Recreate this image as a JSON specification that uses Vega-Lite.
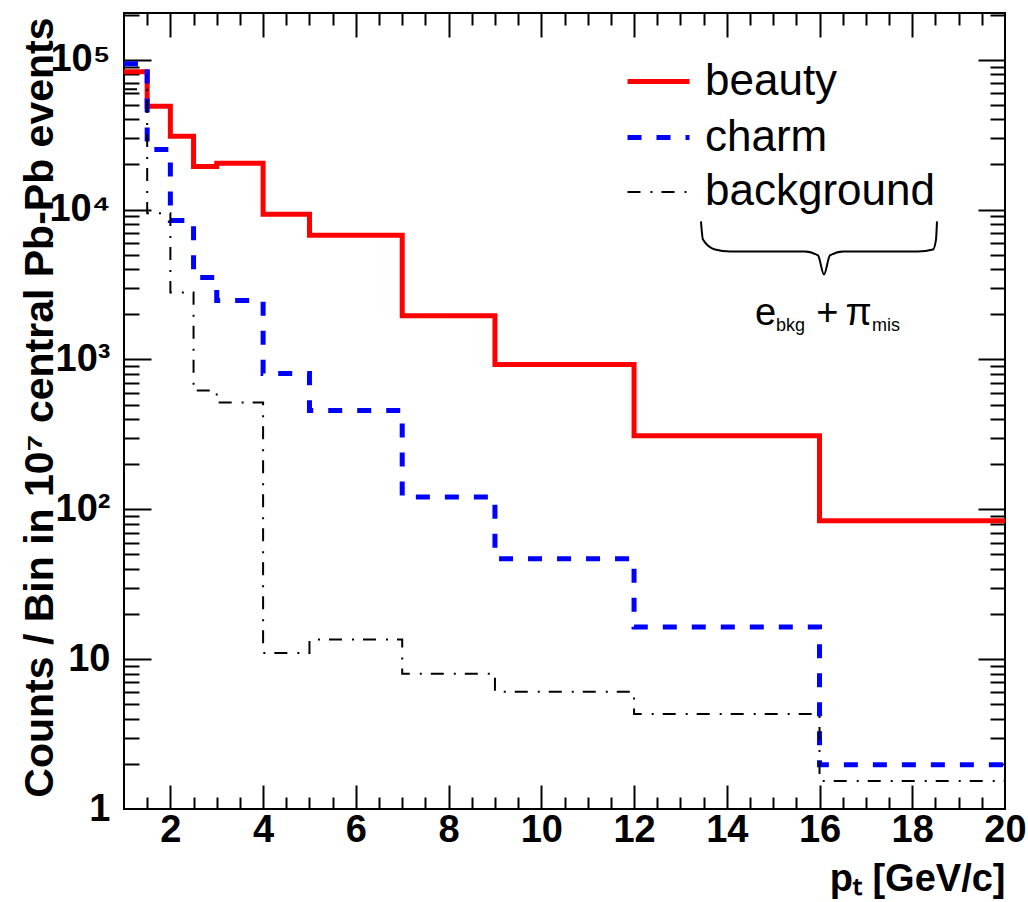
{
  "$schema": "https://vega.github.io/schema/vega-lite/v6.json",
  "width": 881,
  "height": 796,
  "autosize": {"type": "none"},
  "padding": {"left": 124, "top": 13, "right": 23, "bottom": 93},
  "background": "white",
  "config": {
    "font": "Liberation Sans",
    "view": {"stroke": "black", "strokeWidth": 2},
    "legend": {"labelFontSize": 44, "labelFont": "Liberation Sans", "labelColor": "black", "labelOffset": 13, "padding": 0, "rowPadding": 0, "labelLimit": 0, "symbolType": "stroke", "symbolSize": 3844}
  },
  "datasets": {
    "hist": [
      {"x": 1, "v": 83000, "s": "beauty"},
      {"x": 1.5, "v": 48900, "s": "beauty"},
      {"x": 2, "v": 30800, "s": "beauty"},
      {"x": 2.5, "v": 19400, "s": "beauty"},
      {"x": 3, "v": 20400, "s": "beauty"},
      {"x": 4, "v": 9290, "s": "beauty"},
      {"x": 5, "v": 6730, "s": "beauty"},
      {"x": 7, "v": 1960, "s": "beauty"},
      {"x": 9, "v": 925, "s": "beauty"},
      {"x": 12, "v": 310, "s": "beauty"},
      {"x": 16, "v": 83.9, "s": "beauty"},
      {"x": 20, "v": 83.9, "s": "beauty"},
      {"x": 1, "v": 94000, "s": "charm"},
      {"x": 1.5, "v": 25200, "s": "charm"},
      {"x": 2, "v": 8470, "s": "charm"},
      {"x": 2.5, "v": 3520, "s": "charm"},
      {"x": 3, "v": 2470, "s": "charm"},
      {"x": 4, "v": 805, "s": "charm"},
      {"x": 5, "v": 456, "s": "charm"},
      {"x": 7, "v": 121, "s": "charm"},
      {"x": 9, "v": 46.8, "s": "charm"},
      {"x": 12, "v": 16.4, "s": "charm"},
      {"x": 16, "v": 1.97, "s": "charm"},
      {"x": 20, "v": 1.97, "s": "charm"},
      {"x": 1, "v": 63500, "s": "background"},
      {"x": 1.5, "v": 9440, "s": "background"},
      {"x": 2, "v": 2800, "s": "background"},
      {"x": 2.5, "v": 620, "s": "background"},
      {"x": 3, "v": 515, "s": "background"},
      {"x": 4, "v": 11.0, "s": "background"},
      {"x": 5, "v": 13.5, "s": "background"},
      {"x": 7, "v": 7.98, "s": "background"},
      {"x": 9, "v": 6.05, "s": "background"},
      {"x": 12, "v": 4.31, "s": "background"},
      {"x": 16, "v": 1.54, "s": "background"},
      {"x": 20, "v": 1.54, "s": "background"}
    ],
    "brace": [
      {"x": 13.443, "v": 8340},
      {"x": 13.486, "v": 6310},
      {"x": 13.745, "v": 5420},
      {"x": 14.069, "v": 5260},
      {"x": 15.686, "v": 5260},
      {"x": 15.967, "v": 4940},
      {"x": 16.096, "v": 3690},
      {"x": 16.225, "v": 4940},
      {"x": 16.506, "v": 5260},
      {"x": 18.123, "v": 5260},
      {"x": 18.447, "v": 5420},
      {"x": 18.512, "v": 6310},
      {"x": 18.533, "v": 8340}
    ],
    "bigtext": [
      {"x": 14.609, "v": 1710, "t": "e"},
      {"x": 15.93, "v": 1710, "t": "+"},
      {"x": 16.56, "v": 1710, "t": "π"}
    ],
    "subtext": [
      {"x": 15.061, "v": 1536, "t": "bkg"},
      {"x": 17.13, "v": 1536, "t": "mis"}
    ]
  },
  "resolve": {"axis": {"x": "independent", "y": "independent"}},
  "layer": [
    {
      "data": {"name": "hist"},
      "mark": {"type": "line", "interpolate": "step-after"},
      "encoding": {
        "x": {
          "field": "x", "type": "quantitative",
          "scale": {"domain": [1, 20], "nice": false, "zero": false},
          "axis": {
            "orient": "bottom", "values": [2, 4, 6, 8, 10, 12, 14, 16, 18, 20],
            "ticks": false, "domain": false, "grid": false,
            "labelFlush": false, "labelOverlap": false,
            "labelFont": "Liberation Sans", "labelFontWeight": "bold", "labelFontSize": 38, "labelColor": "black", "labelPadding": 2,
            "title": "pₜ [GeV/c]", "titleFont": "Liberation Sans", "titleFontWeight": "bold", "titleFontSize": 38, "titleColor": "black",
            "titleX": 881, "titleY": 81, "titleAlign": "right", "titleBaseline": "alphabetic"
          }
        },
        "y": {
          "field": "v", "type": "quantitative",
          "scale": {"type": "log", "domain": [1, 205000], "nice": false},
          "axis": {
            "orient": "left", "values": [1, 10, 100, 1000, 10000, 100000],
            "ticks": false, "domain": false, "grid": false,
            "labelFlush": false, "labelOverlap": false,
            "labelExpr": "datum.value == 1 ? '1' : datum.value == 10 ? '10' : datum.value == 100 ? '10²' : datum.value == 1000 ? '10³' : datum.value == 10000 ? '10⁴' : '10⁵'",
            "labelFont": "Liberation Sans", "labelFontWeight": "bold", "labelFontSize": 38, "labelColor": "black", "labelPadding": 14,
            "title": "Counts / Bin in 10⁷ central Pb-Pb events", "titleFont": "Liberation Sans", "titleFontWeight": "bold", "titleFontSize": 41, "titleColor": "black",
            "titleX": -72, "titleY": 4, "titleAngle": -90, "titleAlign": "right", "titleBaseline": "alphabetic"
          }
        },
        "color": {
          "field": "s", "type": "nominal",
          "scale": {"domain": ["beauty", "charm", "background"], "range": ["#ff0000", "#0000ff", "#000000"]},
          "legend": {"orient": "none", "legendX": 501, "legendY": 35, "title": null}
        },
        "strokeDash": {
          "field": "s", "type": "nominal",
          "scale": {"domain": ["beauty", "charm", "background"], "range": [[1, 0], [14, 15], [13, 10, 2, 9]]},
          "legend": {"orient": "none", "legendX": 501, "legendY": 35, "title": null}
        },
        "strokeWidth": {
          "field": "s", "type": "nominal",
          "scale": {"type": "ordinal", "domain": ["beauty", "charm", "background"], "range": [5, 5, 2]},
          "legend": {"orient": "none", "legendX": 501, "legendY": 35, "title": null}
        }
      }
    },
    {
      "data": {"name": "hist"},
      "mark": {"type": "point", "opacity": 0},
      "encoding": {
        "x": {
          "field": "x", "type": "quantitative",
          "scale": {"domain": [1, 20], "nice": false, "zero": false},
          "axis": {
            "orient": "bottom", "values": [1.5, 2, 2.5, 3, 3.5, 4, 4.5, 5, 5.5, 6, 6.5, 7, 7.5, 8, 8.5, 9, 9.5, 10, 10.5, 11, 11.5, 12, 12.5, 13, 13.5, 14, 14.5, 15, 15.5, 16, 16.5, 17, 17.5, 18, 18.5, 19, 19.5],
            "labels": false, "domain": false, "grid": false, "title": null,
            "tickColor": "black", "tickWidth": 2,
            "tickSize": {"condition": {"test": "datum.value % 2 == 0", "value": -24}, "value": -12}
          }
        },
        "y": {
          "field": "v", "type": "quantitative",
          "scale": {"type": "log", "domain": [1, 205000], "nice": false},
          "axis": {
            "orient": "left", "values": [2, 3, 4, 5, 6, 7, 8, 9, 10, 20, 30, 40, 50, 60, 70, 80, 90, 100, 200, 300, 400, 500, 600, 700, 800, 900, 1000, 2000, 3000, 4000, 5000, 6000, 7000, 8000, 9000, 10000, 20000, 30000, 40000, 50000, 60000, 70000, 80000, 90000, 100000, 200000],
            "labels": false, "domain": false, "grid": false, "title": null,
            "tickColor": "black", "tickWidth": 2,
            "tickSize": {"condition": {"test": "indexof([1, 10, 100, 1000, 10000, 100000], datum.value) >= 0", "value": -27}, "value": -15}
          }
        }
      }
    },
    {
      "data": {"name": "hist"},
      "mark": {"type": "point", "opacity": 0},
      "encoding": {
        "x": {
          "field": "x", "type": "quantitative",
          "scale": {"domain": [1, 20], "nice": false, "zero": false},
          "axis": {
            "orient": "top", "values": [1.5, 2, 2.5, 3, 3.5, 4, 4.5, 5, 5.5, 6, 6.5, 7, 7.5, 8, 8.5, 9, 9.5, 10, 10.5, 11, 11.5, 12, 12.5, 13, 13.5, 14, 14.5, 15, 15.5, 16, 16.5, 17, 17.5, 18, 18.5, 19, 19.5],
            "labels": false, "domain": false, "grid": false, "title": null,
            "tickColor": "black", "tickWidth": 2,
            "tickSize": {"condition": {"test": "datum.value % 2 == 0", "value": -24}, "value": -12}
          }
        },
        "y": {
          "field": "v", "type": "quantitative",
          "scale": {"type": "log", "domain": [1, 205000], "nice": false},
          "axis": {
            "orient": "right", "values": [2, 3, 4, 5, 6, 7, 8, 9, 10, 20, 30, 40, 50, 60, 70, 80, 90, 100, 200, 300, 400, 500, 600, 700, 800, 900, 1000, 2000, 3000, 4000, 5000, 6000, 7000, 8000, 9000, 10000, 20000, 30000, 40000, 50000, 60000, 70000, 80000, 90000, 100000, 200000],
            "labels": false, "domain": false, "grid": false, "title": null,
            "tickColor": "black", "tickWidth": 2,
            "tickSize": {"condition": {"test": "indexof([1, 10, 100, 1000, 10000, 100000], datum.value) >= 0", "value": -27}, "value": -15}
          }
        }
      }
    },
    {
      "data": {"name": "brace"},
      "mark": {"type": "line", "interpolate": "monotone", "color": "black", "strokeWidth": 2},
      "encoding": {
        "x": {"field": "x", "type": "quantitative", "scale": {"domain": [1, 20], "nice": false, "zero": false}, "axis": null},
        "y": {"field": "v", "type": "quantitative", "scale": {"type": "log", "domain": [1, 205000], "nice": false}, "axis": null}
      }
    },
    {
      "data": {"name": "bigtext"},
      "mark": {"type": "text", "align": "left", "baseline": "alphabetic", "fontSize": 38, "font": "Liberation Sans", "color": "black"},
      "encoding": {
        "x": {"field": "x", "type": "quantitative", "scale": {"domain": [1, 20], "nice": false, "zero": false}, "axis": null},
        "y": {"field": "v", "type": "quantitative", "scale": {"type": "log", "domain": [1, 205000], "nice": false}, "axis": null},
        "text": {"field": "t"}
      }
    },
    {
      "data": {"name": "subtext"},
      "mark": {"type": "text", "align": "left", "baseline": "alphabetic", "fontSize": 18, "font": "Liberation Sans", "color": "black"},
      "encoding": {
        "x": {"field": "x", "type": "quantitative", "scale": {"domain": [1, 20], "nice": false, "zero": false}, "axis": null},
        "y": {"field": "v", "type": "quantitative", "scale": {"type": "log", "domain": [1, 205000], "nice": false}, "axis": null},
        "text": {"field": "t"}
      }
    }
  ]
}
